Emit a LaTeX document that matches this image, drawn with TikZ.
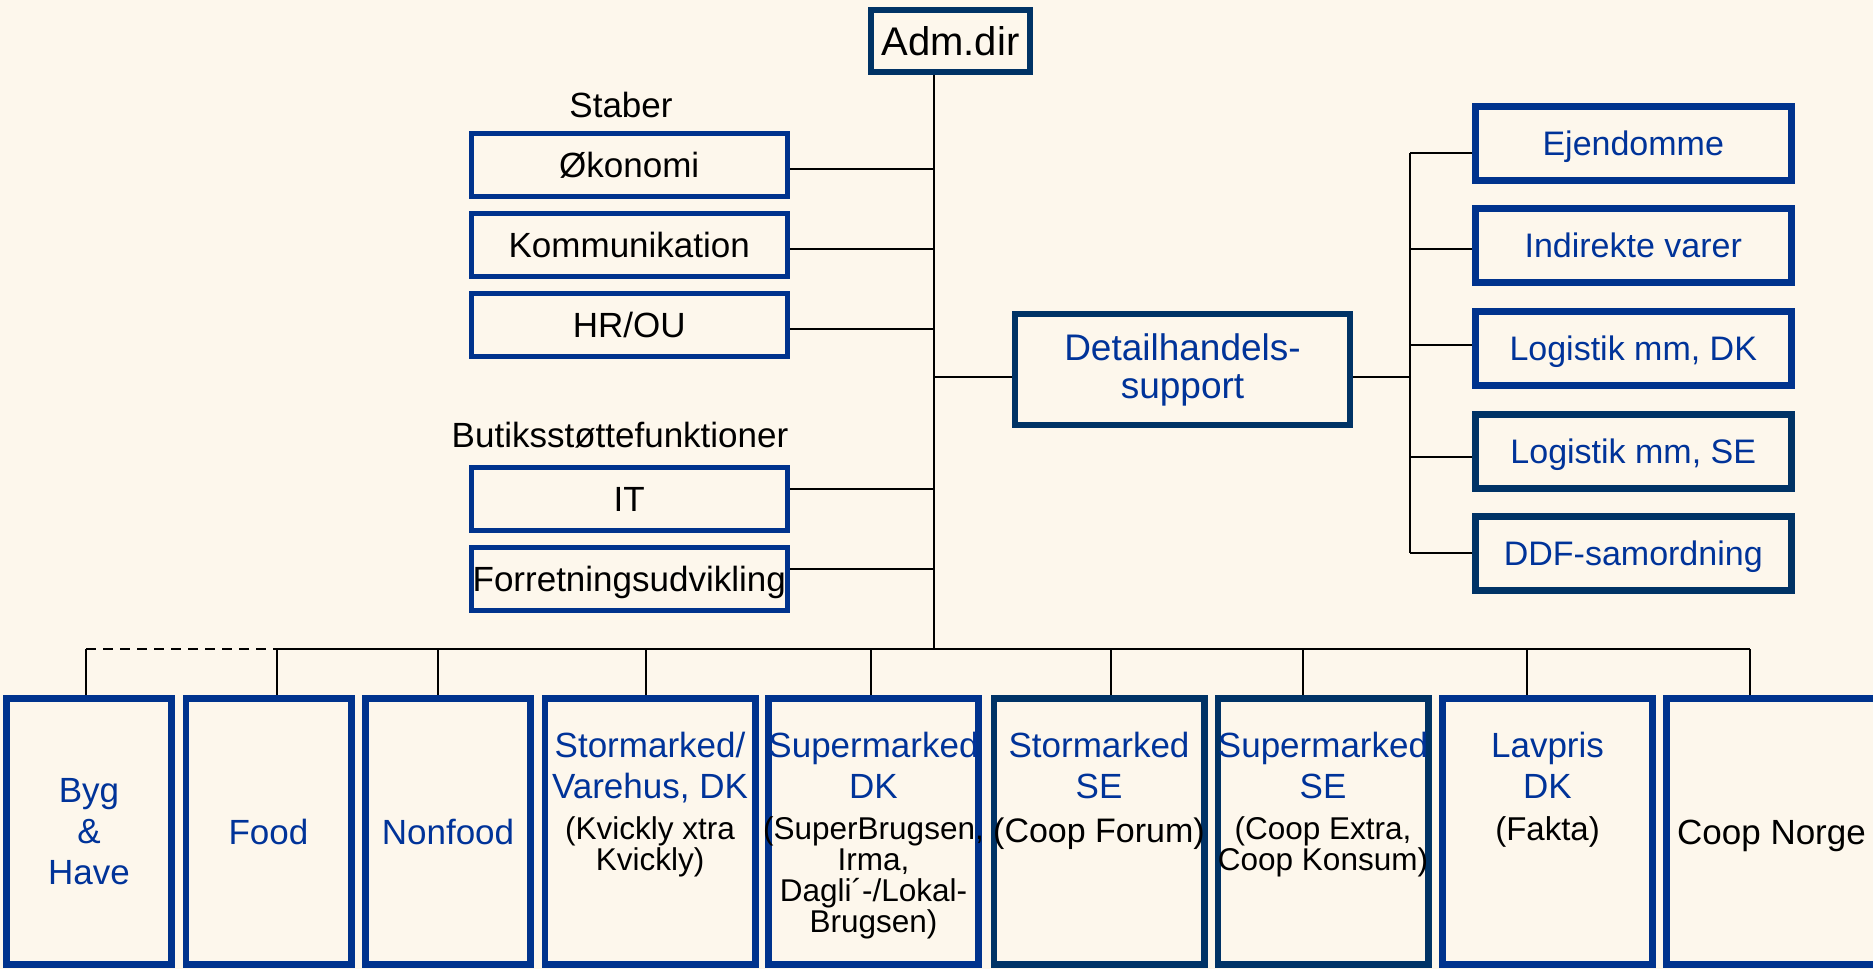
\documentclass[tikz,border=0pt]{standalone}
\usepackage{fontspec}
\setmainfont{Liberation Sans}
\definecolor{bg}{RGB}{253,247,236}
\definecolor{cblue}{RGB}{0,51,141}
\definecolor{cnavy}{RGB}{0,51,102}
\definecolor{tblue}{RGB}{0,51,153}
\newcommand{\shoptext}[3]{\parbox[c][133pt][#1]{#2}{\centering\color{tblue}#3}}
\newcommand{\subtext}{\par\vspace{5pt}\fontsize{15.75}{15.5}\selectfont\color{black}}
\newcommand{\wideline}[1]{\makebox[\linewidth]{#1}}
\newcommand{\headstrut}{\rule{0pt}{29.5pt}}
\begin{document}
\begin{tikzpicture}[x=0.5pt,y=-0.5pt,
    every node/.style={font=\fontsize{17.5}{20.5}\selectfont},
    conn/.style={black,line width=0.75pt},
    staff/.style={draw=cblue,line width=2.5pt,fill=bg,inner sep=0pt,minimum width=158.25pt,minimum height=31.5pt,text height=12.6pt,text depth=0pt},
    unit/.style={draw=#1,line width=3.5pt,fill=bg,inner sep=0pt,text=tblue,minimum width=157.75pt,minimum height=37pt,text height=12.2pt,text depth=0pt,font=\fontsize{17}{20}\selectfont},
    unit/.default=cblue,
    shop/.style={draw=#1,line width=3.4pt,fill=bg,inner sep=0pt},
    shop/.default=cblue]
    \useasboundingbox (0,0) rectangle (1873,969);
    \fill[bg] (0,0) rectangle (1873,969);
    \clip (0,0) rectangle (1873,969);

    % Top
    \node[draw=cnavy,line width=2.85pt,fill=bg,inner sep=0pt,minimum width=79.65pt,minimum height=31.15pt,text height=14.4pt,text depth=0pt,font=\fontsize{20}{24}\selectfont] (adm) at (950.5,41) {Adm.dir};

    % Staber
    \node[anchor=base] (staber) at (621,117) {Staber};
    \node[staff] (oko) at (629.25,165) {Økonomi};
    \node[staff] (komm) at (629.25,245) {Kommunikation};
    \node[staff] (hr) at (629.25,325) {HR/OU};

    % Butiksstoettefunktioner
    \node[anchor=base] (butik) at (620,447) {Butiksstøttefunktioner};
    \node[staff] (it) at (629.25,498.5) {IT};
    \node[staff] (forr) at (629.25,578.5) {Forretningsudvikling};

    % Detailhandels-support and its units
    \node[draw=cnavy,line width=2.85pt,fill=bg,inner sep=0pt,minimum width=167.65pt,minimum height=55.65pt,text=tblue,align=center,font=\fontsize{18.5}{19}\selectfont] (detail) at (1182.5,369.5) {Detailhandels-\\support};
    \node[unit] (ejen) at (1633.25,143.5) {Ejendomme};
    \node[unit] (indir) at (1633.25,245.5) {Indirekte varer};
    \node[unit] (logdk) at (1633.25,348.5) {Logistik mm, DK};
    \node[unit=cnavy] (logse) at (1633.25,451) {Logistik mm, SE};
    \node[unit=cnavy] (ddf) at (1633.25,553.5) {DDF-samordning};

    % Kaeder
    \node[shop] (b1) at (89,831.5) {\shoptext{c}{82.6pt}{Byg\\\&\\Have}};
    \node[shop] (b2) at (268.5,831.5) {\shoptext{c}{82.6pt}{Food}};
    \node[shop] (b3) at (448,831.5) {\shoptext{c}{82.6pt}{Nonfood}};
    \node[shop] (b4) at (650,831.5) {\shoptext{t}{105.1pt}{\headstrut Stormarked/\\Varehus, DK\subtext(Kvickly xtra\\Kvickly)}};
    \node[shop] (b5) at (873.5,831.5) {\shoptext{t}{105.1pt}{\headstrut Supermarked\\DK\subtext\wideline{(SuperBrugsen,}\\Irma,\\Dagli´-/Lokal-\\Brugsen)}};
    \node[shop=cnavy] (b6) at (1099,831.5) {\shoptext{t}{105.1pt}{\headstrut Stormarked\\SE\subtext\fontsize{17}{17}\selectfont\wideline{(Coop Forum)}}};
    \node[shop=cnavy] (b7) at (1323,831.5) {\shoptext{t}{105.1pt}{\headstrut Supermarked\\SE\subtext(Coop Extra,\\\wideline{Coop Konsum)}}};
    \node[shop] (b8) at (1547.5,831.5) {\shoptext{t}{105.1pt}{\headstrut Lavpris\\DK\subtext\fontsize{16.5}{16}\selectfont(Fakta)}};
    \node[shop] (b9) at (1771.5,831.5) {\shoptext{c}{105.1pt}{\color{black}\vspace*{4pt}Coop Norge}};

    % Trunk
    \coordinate (busj) at (934,649);
    \draw[conn] (adm.south -| busj) -- (busj);
    \foreach \n/\y in {oko/169,komm/249,hr/329,it/489,forr/569}{
        \coordinate (t\n) at (934,\y);
        \draw[conn] (t\n) -- (t\n -| \n.east);
    }
    \coordinate (tdet) at (934,377);
    \draw[conn] (tdet) -- (tdet -| detail.west);

    % Right branch
    \coordinate (rdet) at (1410,377);
    \draw[conn] (rdet -| detail.east) -- (rdet);
    \coordinate (rtop) at (1410,153);
    \coordinate (rbot) at (1410,553);
    \draw[conn] (rtop) -- (rbot);
    \foreach \n/\y in {ejen/153,indir/249,logdk/345,logse/457,ddf/553}{
        \coordinate (r\n) at (1410,\y);
        \draw[conn] (r\n) -- (r\n -| \n.west);
    }

    % Bus to the chains
    \foreach \n/\x in {1/86,2/277,3/438,4/646,5/871,6/1111,7/1303,8/1527,9/1750}{
        \coordinate (d\n) at (\x,649);
        \draw[conn] (d\n) -- (d\n |- b\n.north);
    }
    \draw[conn,dash pattern=on 5pt off 3.5pt] (d1) -- (d2);
    \draw[conn] (d2) -- (d9);
\end{tikzpicture}
\end{document}
